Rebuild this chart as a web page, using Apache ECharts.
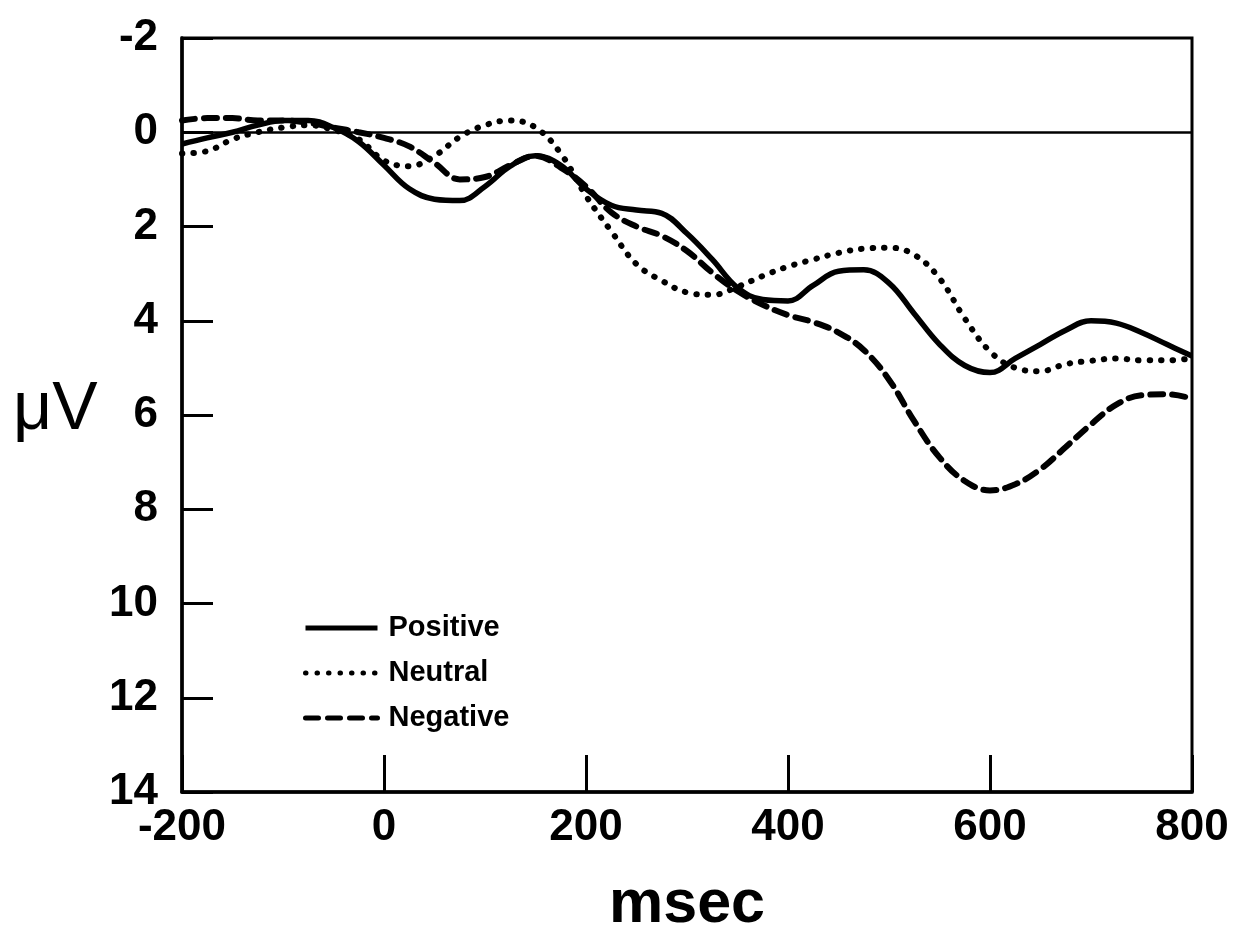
<!DOCTYPE html>
<html>
<head>
<meta charset="utf-8">
<script src="https://cdn.jsdelivr.net/npm/echarts@6/dist/echarts.min.js"></script>
<style>html,body{margin:0;padding:0;background:#fff}#c{width:1238px;height:941px}</style>
</head>
<body>
<div id="c"></div>
<script>
const timeMs = [-200,-175,-150,-125,-100,-75,-50,-25,0,25,50,75,100,125,150,175,200,225,250,275,300,325,350,375,400,425,450,475,500,525,550,575,600,625,650,675,700,725,750,775,800];
const positive = [0.25,0.12,0.0,-0.15,-0.25,-0.25,-0.1,0.2,0.7,1.2,1.42,1.45,1.15,0.72,0.5,0.7,1.2,1.55,1.65,1.72,2.15,2.7,3.3,3.55,3.58,3.25,2.95,2.92,3.2,3.85,4.5,4.95,5.1,4.8,4.5,4.2,4.0,4.05,4.25,4.5,4.75];
const neutral = [0.45,0.4,0.15,0.0,-0.1,-0.15,-0.05,0.15,0.6,0.72,0.5,0.1,-0.15,-0.25,-0.1,0.45,1.35,2.1,2.8,3.15,3.4,3.45,3.28,3.05,2.85,2.7,2.56,2.47,2.45,2.6,3.1,3.95,4.65,5.0,5.07,4.92,4.85,4.8,4.84,4.84,4.8];
const negative = [-0.25,-0.3,-0.3,-0.25,-0.25,-0.2,-0.1,0.0,0.12,0.3,0.65,1.0,0.95,0.7,0.5,0.75,1.15,1.7,2.0,2.2,2.52,2.98,3.37,3.66,3.88,4.03,4.25,4.62,5.25,6.13,6.9,7.4,7.6,7.47,7.15,6.68,6.2,5.78,5.58,5.56,5.65];
const seriesNames = ['Positive','Neutral','Negative'];
const xTicks = [-200,0,200,400,600,800];
const yTicks = [-2,0,2,4,6,8,10,12,14];

const pair = arr => timeMs.map((t,i)=>[t,arr[i]]);
const font = '"Liberation Sans", Arial, sans-serif';

const chart = echarts.init(document.getElementById('c'), null, {renderer:'canvas'});
chart.setOption({
  animation:false,
  backgroundColor:'#fff',
  color:['#000','#000','#000'],
  grid:{left:182,right:46,top:38,bottom:149,show:true,borderColor:'#000',borderWidth:3,backgroundColor:'transparent'},
  xAxis:{type:'value',min:xTicks[0],max:xTicks[xTicks.length-1],interval:200,
    axisLine:{show:true,onZero:false,lineStyle:{color:'#000',width:3.5}},
    axisTick:{show:true,inside:true,length:37,lineStyle:{color:'#000',width:3}},
    splitLine:{show:false},
    axisLabel:{color:'#000',fontFamily:font,fontWeight:'bold',fontSize:44,margin:14},
    name:'msec',nameLocation:'middle',nameGap:83,
    nameTextStyle:{color:'#000',fontFamily:font,fontWeight:'bold',fontSize:61,verticalAlign:'top'}
  },
  yAxis:{type:'value',inverse:true,min:yTicks[0],max:yTicks[yTicks.length-1],interval:2,
    axisLine:{show:true,onZero:false,lineStyle:{color:'#000',width:3.5}},
    axisTick:{show:true,inside:true,length:31,lineStyle:{color:'#000',width:3}},
    splitLine:{show:false},
    axisLabel:{color:'#000',fontFamily:font,fontWeight:'bold',fontSize:44,margin:24}
  },
  graphic:[{type:'text',left:13,top:376,style:{text:'μV',font:'68px '+font,fill:'#000'}}],
  legend:{orient:'vertical',left:298,top:608,itemWidth:72,itemHeight:14,itemGap:15,
    itemStyle:{opacity:0},
    lineStyle:{width:5},
    textStyle:{color:'#000',fontFamily:font,fontWeight:'bold',fontSize:29,lineHeight:30,padding:[0,0,0,6]},
    data:seriesNames},
  series:[
    {name:seriesNames[0],type:'line',data:pair(positive),smooth:0.4,showSymbol:false,symbol:'none',
      lineStyle:{color:'#000',width:5.5,type:'solid'},
      markLine:{silent:true,symbol:'none',label:{show:false},lineStyle:{color:'#000',width:2.5,type:'solid'},data:[{yAxis:0}]}},
    {name:seriesNames[1],type:'line',data:pair(neutral),smooth:0.4,showSymbol:false,symbol:'none',
      lineStyle:{color:'#000',width:6,type:[0.5,11],cap:'round'}},
    {name:seriesNames[2],type:'line',data:pair(negative),smooth:0.4,showSymbol:false,symbol:'none',
      lineStyle:{color:'#000',width:6,type:[13,9],cap:'round'}}
  ]
});
</script>
</body>
</html>
